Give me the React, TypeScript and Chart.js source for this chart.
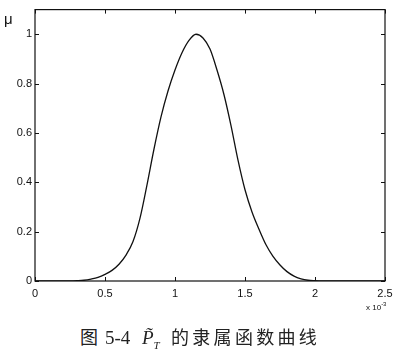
import React, { useEffect, useRef } from "react";
import { Chart, registerables } from "chart.js";

Chart.register(...registerables);

const xValues = [
  0, 0.05, 0.1, 0.15, 0.2, 0.25, 0.3, 0.35, 0.4, 0.45, 0.5, 0.55, 0.6, 0.65, 0.7, 0.75, 0.8, 0.85, 0.9, 0.95,
  1.0, 1.05, 1.1, 1.15, 1.2, 1.25, 1.3, 1.35, 1.4, 1.45, 1.5, 1.55, 1.6, 1.65, 1.7, 1.75, 1.8, 1.85, 1.9, 1.95,
  2.0, 2.05, 2.1, 2.15, 2.2, 2.25, 2.3, 2.35, 2.4, 2.45, 2.5,
];
const muValues = [
  0, 0, 0, 0, 0, 0, 0.001, 0.003, 0.008, 0.015, 0.027, 0.043, 0.068, 0.105, 0.16, 0.255, 0.39, 0.535, 0.665, 0.77,
  0.855, 0.925, 0.975, 1.0, 0.985, 0.94, 0.855, 0.755, 0.63, 0.49, 0.37, 0.28, 0.21, 0.147, 0.1, 0.065, 0.038, 0.02, 0.009, 0.003,
  0.001, 0, 0, 0, 0, 0, 0, 0, 0, 0, 0,
];
const xTicks = [0, 0.5, 1, 1.5, 2, 2.5];
const yTicks = [0, 0.2, 0.4, 0.6, 0.8, 1];

const framePlugin = {
  id: "matlabFrame",
  afterDraw(chart: any) {
    const { ctx, chartArea } = chart;
    const { left, right, top, bottom } = chartArea;
    const xs = chart.scales.x;
    const ys = chart.scales.y;
    const len = 4;
    ctx.save();
    ctx.strokeStyle = "#111";
    ctx.lineWidth = 1.2;
    ctx.strokeRect(left, top, right - left, bottom - top);
    ctx.lineWidth = 1;
    ctx.beginPath();
    xTicks.forEach((v) => {
      const px = Math.round(xs.getPixelForValue(v)) + 0.5;
      ctx.moveTo(px, bottom);
      ctx.lineTo(px, bottom - len);
      ctx.moveTo(px, top);
      ctx.lineTo(px, top + len);
    });
    yTicks.forEach((v) => {
      const py = Math.round(ys.getPixelForValue(v)) + 0.5;
      ctx.moveTo(left, py);
      ctx.lineTo(left + len, py);
      ctx.moveTo(right, py);
      ctx.lineTo(right - len, py);
    });
    ctx.stroke();
    ctx.restore();
  },
};

const capFont = '"Liberation Serif", "Noto Sans CJK SC"';

export default function App() {
  const ref = useRef<HTMLCanvasElement | null>(null);

  useEffect(() => {
    if (!ref.current) return;
    const chart = new Chart(ref.current, {
      type: "line",
      data: {
        datasets: [
          {
            data: xValues.map((x, i) => ({ x, y: muValues[i] })),
            borderColor: "#111",
            borderWidth: 1.3,
            pointRadius: 0,
            cubicInterpolationMode: "monotone",
            fill: false,
          },
        ],
      },
      options: {
        animation: false,
        responsive: false,
        layout: { padding: { left: 0, right: 15, top: 6, bottom: 0 } },
        plugins: { legend: { display: false }, tooltip: { enabled: false } },
        scales: {
          x: {
            type: "linear",
            min: 0,
            max: 2.5,
            afterBuildTicks: (s: any) => {
              s.ticks = xTicks.map((v) => ({ value: v }));
            },
            afterFit: (s: any) => {
              s.height = 39;
            },
            grid: { display: false, drawTicks: false },
            border: { display: false },
            ticks: {
              color: "#111",
              padding: 6,
              maxRotation: 0,
              font: { family: "Liberation Sans", size: 11 },
              callback: (v: any) => String(v),
            },
          },
          y: {
            type: "linear",
            min: 0,
            max: 1.1,
            afterBuildTicks: (s: any) => {
              s.ticks = yTicks.map((v) => ({ value: v }));
            },
            afterFit: (s: any) => {
              s.width = 35;
            },
            grid: { display: false, drawTicks: false },
            border: { display: false },
            ticks: {
              color: "#111",
              padding: 3,
              font: { family: "Liberation Sans", size: 11 },
              callback: (v: any) => String(v),
            },
          },
        },
      },
      plugins: [framePlugin],
    } as any);
    return () => chart.destroy();
  }, []);

  const cap: React.CSSProperties = {
    position: "absolute",
    top: 328,
    fontFamily: capFont,
    fontSize: 18,
    color: "#222",
    whiteSpace: "nowrap",
    lineHeight: "20px",
  };

  return (
    <div style={{ position: "absolute", left: 0, top: 0, width: 400, height: 357, background: "#fff" }}>
      <canvas ref={ref} width={400} height={320} style={{ position: "absolute", left: 0, top: 0 }} />
      <div
        style={{
          position: "absolute",
          left: 4,
          top: 10,
          fontFamily: "Liberation Sans",
          fontSize: 15,
          color: "#111",
        }}
      >
        μ
      </div>
      <div
        style={{
          position: "absolute",
          left: 366,
          top: 301,
          fontFamily: "Liberation Sans",
          fontSize: 8,
          color: "#111",
          whiteSpace: "nowrap",
        }}
      >
        x 10<sup style={{ fontSize: 6 }}>-3</sup>
      </div>
      <span style={{ ...cap, left: 80 }}>图</span>
      <span style={{ ...cap, left: 105, fontSize: 19 }}>5-4</span>
      <span style={{ ...cap, left: 142, fontStyle: "italic", fontSize: 19 }}>
        P̃<sub style={{ fontSize: 11 }}>T</sub>
      </span>
      <span style={{ ...cap, left: 171, letterSpacing: "3.3px" }}>的隶属函数曲线</span>
    </div>
  );
}
